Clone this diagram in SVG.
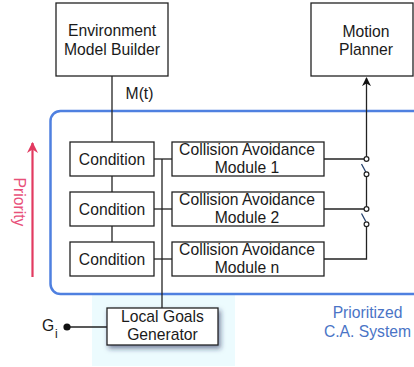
<svg xmlns="http://www.w3.org/2000/svg" width="414" height="367" viewBox="0 0 414 367">
<style>
.box{fill:#fff;stroke:#222;stroke-width:1.3}
.ln{fill:none;stroke:#222;stroke-width:1.3}
.t{font-family:"Liberation Sans",Arial,sans-serif;font-size:15.7px;fill:#1a1a1a;text-anchor:middle}
.sw{fill:#fff;stroke:#222;stroke-width:1.2}
.blue{font-family:"Liberation Sans",Arial,sans-serif;font-size:15.7px;fill:#4a74c6;text-anchor:middle}
</style>
<defs>
<marker id="arr" viewBox="0 0 10 10" refX="9" refY="5" markerWidth="9" markerHeight="9" markerUnits="userSpaceOnUse" orient="auto">
<path d="M0,0 L10,5 L0,10 L3,5 Z" fill="#111"/>
</marker>
<marker id="parr" viewBox="0 0 10 10" refX="9" refY="5" markerWidth="11" markerHeight="11" markerUnits="userSpaceOnUse" orient="auto">
<path d="M0,0 L10,5 L0,10 L3,5 Z" fill="#e23a60"/>
</marker>
<filter id="sh" x="-20%" y="-30%" width="150%" height="180%">
<feDropShadow dx="2" dy="3" stdDeviation="2.5" flood-color="#1c2a55" flood-opacity="0.55"/>
</filter>
</defs>
<rect x="0" y="0" width="414" height="367" fill="#fff"/>
<rect x="92" y="295" width="143" height="71" fill="#ecfbfe"/>
<rect x="50.5" y="111" width="380" height="183" rx="10" fill="none" stroke="#4f80e0" stroke-width="2.5"/>

<g id="connectors">
<line class="ln" x1="112" y1="76" x2="112" y2="142"/>
<line class="ln" x1="112" y1="176" x2="112" y2="192"/>
<line class="ln" x1="112" y1="226" x2="112" y2="242"/>
<line class="ln" x1="162" y1="159" x2="162" y2="308"/>
<line class="ln" x1="154" y1="159" x2="172" y2="159"/>
<line class="ln" x1="154" y1="209" x2="172" y2="209"/>
<line class="ln" x1="154" y1="259" x2="172" y2="259"/>
<line class="ln" x1="324" y1="159" x2="366.5" y2="159"/>
<line class="ln" x1="366.5" y1="156.5" x2="366.5" y2="78" marker-end="url(#arr)"/>
<line class="ln" x1="324" y1="209" x2="366.5" y2="209"/>
<line class="ln" x1="366.5" y1="176.5" x2="366.5" y2="206.5"/>
<polyline class="ln" points="366.5,226.5 366.5,259 324,259"/>
<line x1="361.5" y1="164" x2="365.8" y2="172" stroke="#23406e" stroke-width="1.3"/>
<line x1="361.5" y1="213.5" x2="365.8" y2="221.5" stroke="#23406e" stroke-width="1.3"/>
<circle class="sw" cx="366.5" cy="159" r="2.4"/>
<circle class="sw" cx="366.5" cy="174.3" r="2.4"/>
<circle class="sw" cx="366.5" cy="209" r="2.4"/>
<circle class="sw" cx="366.5" cy="224.3" r="2.4"/>
<line class="ln" x1="67" y1="327" x2="107" y2="327"/>
<circle cx="67" cy="327" r="3.6" fill="#111"/>
<line x1="32.5" y1="277" x2="32.5" y2="143" stroke="#e23a60" stroke-width="2.2" marker-end="url(#parr)"/>
</g>

<g id="env">
<rect class="box" x="56" y="3" width="112" height="73"/>
<text class="t" x="112" y="36">Environment</text>
<text class="t" x="112" y="54.5">Model Builder</text>
</g>
<g id="motion">
<rect class="box" x="311" y="3" width="102" height="73"/>
<text class="t" x="366" y="36.5">Motion</text>
<text class="t" x="366" y="54.5">Planner</text>
</g>
<text class="t" x="139.5" y="99">M(t)</text>

<g id="cond1"><rect class="box" x="70" y="142" width="84" height="34"/><text class="t" x="112" y="164.5">Condition</text></g>
<g id="cond2"><rect class="box" x="70" y="192" width="84" height="34"/><text class="t" x="112" y="214.5">Condition</text></g>
<g id="cond3"><rect class="box" x="70" y="242" width="84" height="34"/><text class="t" x="112" y="264.5">Condition</text></g>

<g id="ca1"><rect class="box" x="172" y="142" width="152" height="34"/><text class="t" x="247" y="155">Collision Avoidance</text><text class="t" x="247" y="173">Module 1</text></g>
<g id="ca2"><rect class="box" x="172" y="192" width="152" height="34"/><text class="t" x="247" y="205">Collision Avoidance</text><text class="t" x="247" y="223">Module 2</text></g>
<g id="can"><rect class="box" x="172" y="242" width="152" height="34"/><text class="t" x="247" y="255">Collision Avoidance</text><text class="t" x="247" y="273">Module n</text></g>

<g id="lgg">
<rect class="box" x="107" y="308" width="111" height="37" filter="url(#sh)"/>
<text class="t" x="162.5" y="322">Local Goals</text>
<text class="t" x="162.5" y="340">Generator</text>
</g>

<g id="gi">
<text font-family="Liberation Sans, Arial, sans-serif" font-size="15.7" fill="#1a1a1a" x="42" y="331">G</text>
<text font-family="Liberation Sans, Arial, sans-serif" font-size="12" fill="#1a1a1a" x="55" y="338">i</text>
</g>

<text transform="translate(14,202) rotate(90)" font-family="Liberation Sans, Arial, sans-serif" font-size="15.7" fill="#e8507a" text-anchor="middle">Priority</text>

<text class="blue" x="367.5" y="318">Prioritized</text>
<text class="blue" x="367.5" y="337">C.A. System</text>
</svg>
